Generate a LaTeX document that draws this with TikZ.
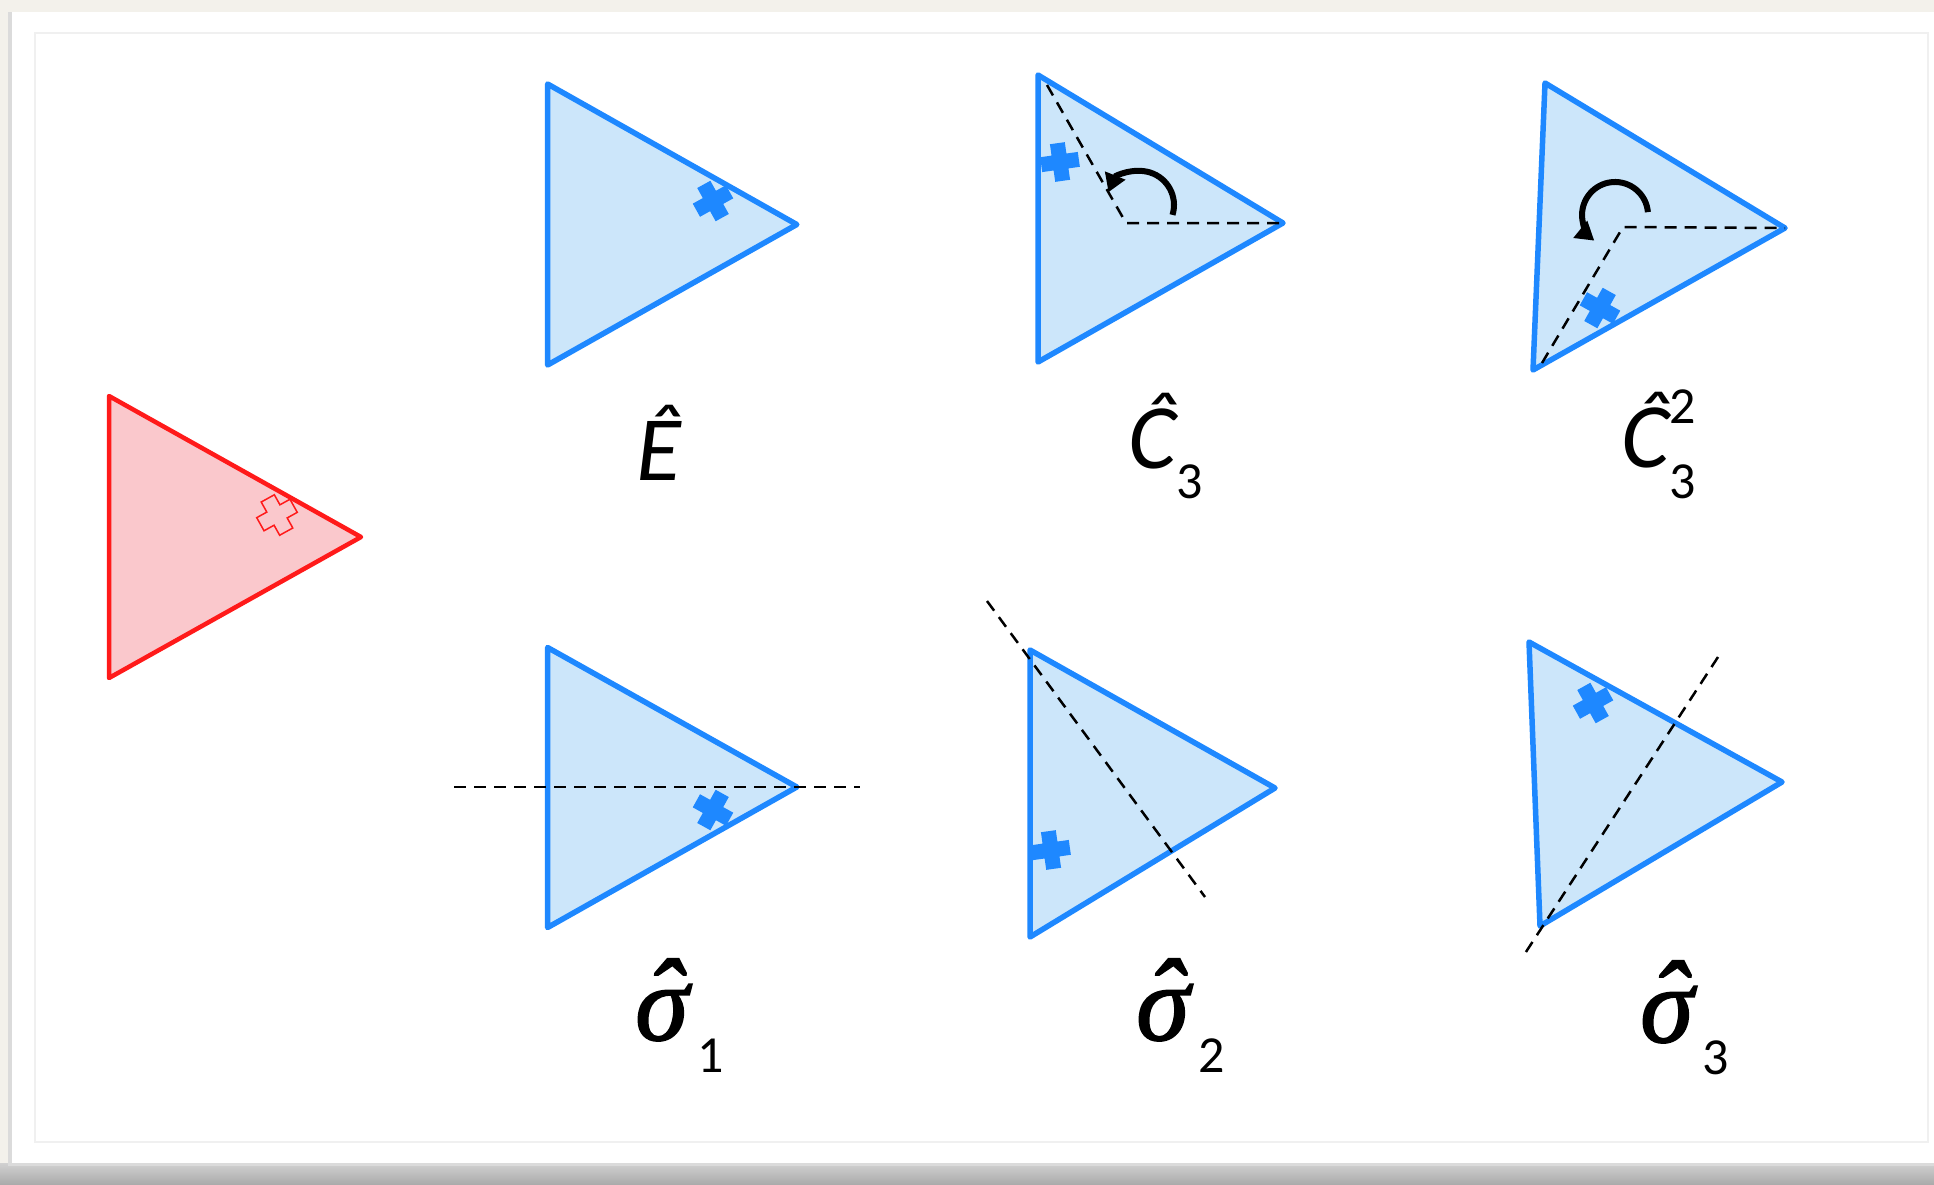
\RequirePackage{fix-cm}
\documentclass[tikz,border=0pt]{standalone}
\usepackage{fontspec}
\usepackage{tikz}
\usetikzlibrary{arrows.meta}
\newfontfamily\calib{Carlito}
\newfontfamily\grk{Liberation Serif}[ItalicFeatures={FakeBold=1.6}]
\definecolor{symblue}{HTML}{1E88FF}
\definecolor{symfill}{HTML}{CCE6FA}
\definecolor{origred}{HTML}{FF1A1A}
\definecolor{origfill}{HTML}{FAC8CC}
\definecolor{paper}{HTML}{F3F1EB}
\newcommand\subidx[2]{\raisebox{#1}{\calib\upshape\fontsize{52}{52}\selectfont #2}}
\newcommand\sighat{\rlap{\grk\itshape\accent"02C6 σ}\hspace{62pt}}

\begin{document}
\begin{tikzpicture}[x=1pt,y=-1pt,
  tri/.style={draw=symblue,fill=symfill,line width=5.5pt,line join=round},
  redtri/.style={draw=origred,fill=origfill,line width=4.5pt,line join=round},
  axis/.style={black,line width=2.5pt,dash pattern=on 12pt off 8pt},
  turn/.style={black,line width=6pt,-{Triangle[length=18pt,width=21pt]}},
  letter/.style={inner sep=0pt,anchor=base west,font=\calib\itshape\fontsize{92}{92}\selectfont},
  greek/.style={inner sep=0pt,anchor=base west,font=\fontsize{108}{108}\selectfont},
  pics/plus/.style={code={\path[pic actions] (-7.5,-19) -- (7.5,-19) -- (7.5,-7.5) -- (19,-7.5) -- (19,7.5) -- (7.5,7.5)
    -- (7.5,19) -- (-7.5,19) -- (-7.5,7.5) -- (-19,7.5) -- (-19,-7.5) -- (-7.5,-7.5) -- cycle;}}]
  \useasboundingbox (0,0) rectangle (1934,1184);
  % page and card
  \fill[paper] (0,0) rectangle (1934,1184);
  \shade[top color=black!18,bottom color=black!33] (0,1163) rectangle (1934,1184);
  \fill[black!14] (8,12) rectangle (1934,1166);
  \fill[white] (12,12) rectangle (1934,1163);
  \draw[black!6,line width=1.5pt] (35,33) rectangle (1928,1142);

  % original triangle
  \draw[redtri] (109,396) -- (109,678) -- (361,537) -- cycle;
  \pic[rotate=29,draw=origred,line width=1.5pt] at (277,515) {plus};

  % E
  \draw[tri] (547.6,84) -- (547.6,365) -- (796.8,224.5) -- cycle;
  \pic[rotate=29,fill=symblue] at (713,201) {plus};
  \node[letter] (e) at (636,480) {Ê};

  % C3
  \draw[tri] (1038,75) -- (1038,362) -- (1283,223) -- cycle;
  \draw[axis] (1047,85) -- (1126,223) -- (1283,223);
  \pic[rotate=8,fill=symblue] at (1060,162) {plus};
  \draw[turn] (1172.5,214.9) arc[start angle=17,end angle=-158,radius=34];
  \node[letter] (c3) at (1128,468) {Ĉ\subidx{-30pt}{3}};

  % C3^2
  \draw[tri] (1545,83) -- (1533,370) -- (1785,228) -- cycle;
  \draw[axis] (1542,363) -- (1623,227) -- (1785,228);
  \pic[rotate=-29,fill=symblue] at (1600,308) {plus};
  \draw[turn] (1647.9,212.1) arc[start angle=-5,end angle=-231,radius=33];
  \node[letter] (c3sq) at (1621,467) {Ĉ\rlap{\subidx{44pt}{2}}\subidx{-31pt}{3}};

  % sigma 1
  \draw[tri] (547.6,647.5) -- (547.6,927.5) -- (796.8,787) -- cycle;
  \draw[axis] (454,787) -- (860,787);
  \pic[rotate=-29,fill=symblue] at (713,810) {plus};
  \node[greek] (s1) at (635,1040) {\sighat\subidx{-32pt}{1}};

  % sigma 2
  \draw[tri] (1030,650) -- (1030,937) -- (1275,788) -- cycle;
  \draw[axis] (987,601) -- (1205,897);
  \pic[rotate=8,fill=symblue] at (1051,850) {plus};
  \node[greek] (s2) at (1136,1040) {\sighat\subidx{-32pt}{2}};

  % sigma 3
  \draw[tri] (1529,642) -- (1540,926) -- (1782,782) -- cycle;
  \draw[axis] (1718,657) -- (1522,958);
  \pic[rotate=29,fill=symblue] at (1593,703) {plus};
  \node[greek] (s3) at (1640,1042) {\sighat\subidx{-32pt}{3}};
\end{tikzpicture}
\end{document}
